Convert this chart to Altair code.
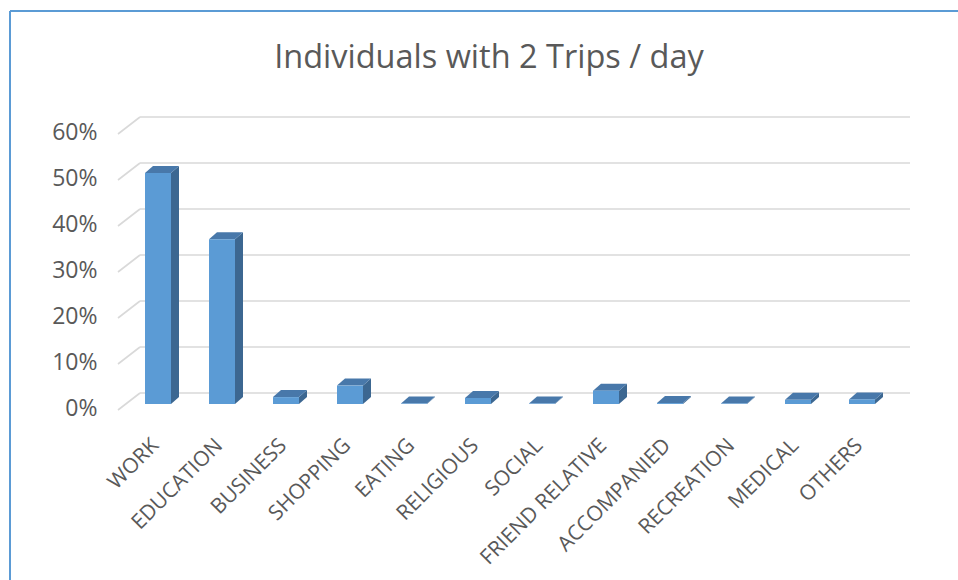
import json

import altair as alt
import pandas as pd

# Share of trip purposes for individuals making two trips per day
categories = [
    "WORK", "EDUCATION", "BUSINESS", "SHOPPING", "EATING", "RELIGIOUS",
    "SOCIAL", "FRIEND RELATIVE", "ACCOMPANIED", "RECREATION", "MEDICAL", "OTHERS",
]
shares = [0.502, 0.358, 0.015, 0.040, 0.001, 0.013, 0.001, 0.029, 0.002, 0.001, 0.009, 0.010]
tick_values = [0.0, 0.1, 0.2, 0.3, 0.4, 0.5, 0.6]
title_text = "Individuals with 2 Trips / day"

# Page and plot geometry (pixels)
PAGE_W, PAGE_H = 958, 580
FRAME_LEFT, FRAME_TOP = 10, 11
PLOT_W, PLOT_H = PAGE_W - FRAME_LEFT, PAGE_H - FRAME_TOP
BAR0_PX, STEP_PX = 158, 64      # centre of the first bar, bar pitch
BASE_PX, UNIT_PX = 404, 460     # bar base line, pixels per 100 %

# Pseudo-3D depth offsets converted to data units
HALF_W = 13 / STEP_PX
BAR_DX, BAR_DY = 8 / STEP_PX, 7 / UNIT_PX
WALL_DX, WALL_DY = 14 / STEP_PX, 11 / UNIT_PX
EDGE_DX, EDGE_DY = -8 / STEP_PX, -6 / UNIT_PX
WALL_END = (910 - BAR0_PX) / STEP_PX

TEXT_COLOR = "#595959"
FONT = "Open Sans"
FRONT_COLOR = "#5B9BD5"
SIDE_COLOR = "#3C6791"
TOP_COLOR = "#4878AA"
GRID_COLOR = "#D9D9D9"
FRAME_COLOR = "#5B9BD5"

x_scale = alt.Scale(
    domain=[(FRAME_LEFT - BAR0_PX) / STEP_PX, (PAGE_W - BAR0_PX) / STEP_PX],
    nice=False, zero=False,
)
y_scale = alt.Scale(
    domain=[(BASE_PX - PAGE_H) / UNIT_PX, (BASE_PX - FRAME_TOP) / UNIT_PX],
    nice=False, zero=False,
)

x_axis = alt.Axis(
    values=list(range(len(categories))),
    labelExpr=f"{json.dumps(categories)}[datum.value]",
    labelAngle=315, labelAlign="right", labelBaseline="middle",
    labelFont=FONT, labelFontSize=21, labelColor=TEXT_COLOR,
    labelPadding=0, labelOffset=-3, labelOverlap=False, labelFlush=False,
    offset=-(PAGE_H - 442), domain=False, ticks=False, tickSize=0,
    grid=False, title=None,
)
y_axis = alt.Axis(
    values=tick_values, format=".0%",
    labelFont=FONT, labelFontSize=23, labelColor=TEXT_COLOR,
    labelPadding=21, labelOffset=4, labelFlush=False,
    offset=-(118 - FRAME_LEFT), domain=False, ticks=False, tickSize=0,
    grid=False, title=None,
)


def xq(field):
    return alt.X(field, type="quantitative", scale=x_scale, axis=x_axis)


def yq(field):
    return alt.Y(field, type="quantitative", scale=y_scale, axis=y_axis)


# Bar geometry
idx = list(range(len(categories)))
bars = pd.DataFrame({"category": categories, "idx": idx, "share": shares})
bars["x_left"] = bars["idx"] - HALF_W
bars["x_right"] = bars["idx"] + HALF_W
bars["base"] = 0.0

side_rows, top_rows = [], []
for c, i, v in zip(categories, idx, shares):
    side_rows += [
        {"category": c, "x": i + HALF_W, "lo": 0.0, "hi": v},
        {"category": c, "x": i + HALF_W + BAR_DX, "lo": BAR_DY, "hi": v + BAR_DY},
    ]
    top_rows += [
        {"category": c, "x": i - HALF_W, "lo": v, "hi": v},
        {"category": c, "x": i - HALF_W + BAR_DX, "lo": v, "hi": v + BAR_DY},
        {"category": c, "x": i + HALF_W, "lo": v, "hi": v + BAR_DY},
        {"category": c, "x": i + HALF_W + BAR_DX, "lo": v + BAR_DY, "hi": v + BAR_DY},
    ]
side = pd.DataFrame(side_rows)
top = pd.DataFrame(top_rows)

# Back wall gridlines and the slanted side-wall lines
walls = pd.DataFrame({"tick": tick_values})
walls["back_y"] = walls["tick"] + WALL_DY
walls["edge_y"] = walls["tick"] + EDGE_DY
walls["back_x0"] = -0.5 + WALL_DX
walls["back_x1"] = WALL_END
walls["edge_x0"] = -0.5 + EDGE_DX

back_lines = alt.Chart(walls).mark_rule(color=GRID_COLOR, strokeWidth=1.6).encode(
    x=xq("back_x0"), x2="back_x1", y=yq("back_y"),
)
side_lines = alt.Chart(walls).mark_rule(color=GRID_COLOR, strokeWidth=1.6).encode(
    x=xq("edge_x0"), x2="back_x0", y=yq("edge_y"), y2="back_y",
)

side_faces = alt.Chart(side).mark_area(color=SIDE_COLOR, interpolate="linear").encode(
    x=xq("x"), y=yq("lo"), y2="hi", detail="category:N",
)
top_faces = alt.Chart(top).mark_area(color=TOP_COLOR, interpolate="linear").encode(
    x=xq("x"), y=yq("lo"), y2="hi", detail="category:N",
)
front_faces = alt.Chart(bars).mark_rect(color=FRONT_COLOR).encode(
    x=xq("x_left"), x2="x_right", y=yq("base"), y2="share",
)

# Chart frame: left and top edges of the chart area
frame = pd.DataFrame({"edge": ["frame"]})
frame_left = alt.Chart(frame).mark_rule(color=FRAME_COLOR, strokeWidth=2).encode(
    x=alt.value(0), y=alt.value(0), y2=alt.value(PLOT_H),
)
frame_top = alt.Chart(frame).mark_rule(color=FRAME_COLOR, strokeWidth=2).encode(
    x=alt.value(0), x2=alt.value(PLOT_W), y=alt.value(0),
)

chart = (
    alt.layer(back_lines, side_lines, side_faces, top_faces, front_faces, frame_left, frame_top)
    .properties(
        width=PLOT_W,
        height=PLOT_H,
        padding={"left": FRAME_LEFT, "top": FRAME_TOP, "right": 0, "bottom": 0},
        autosize=alt.AutoSizeParams(type="none"),
        background="white",
        title=alt.TitleParams(
            title_text, font=FONT, fontSize=32.5, fontWeight="normal",
            color=TEXT_COLOR, anchor="middle", baseline="alphabetic",
            offset=0, dx=5, dy=90,
        ),
    )
    .configure_view(stroke=None)
)

chart.save("out.html", embed_options={"renderer": "svg", "actions": False})
